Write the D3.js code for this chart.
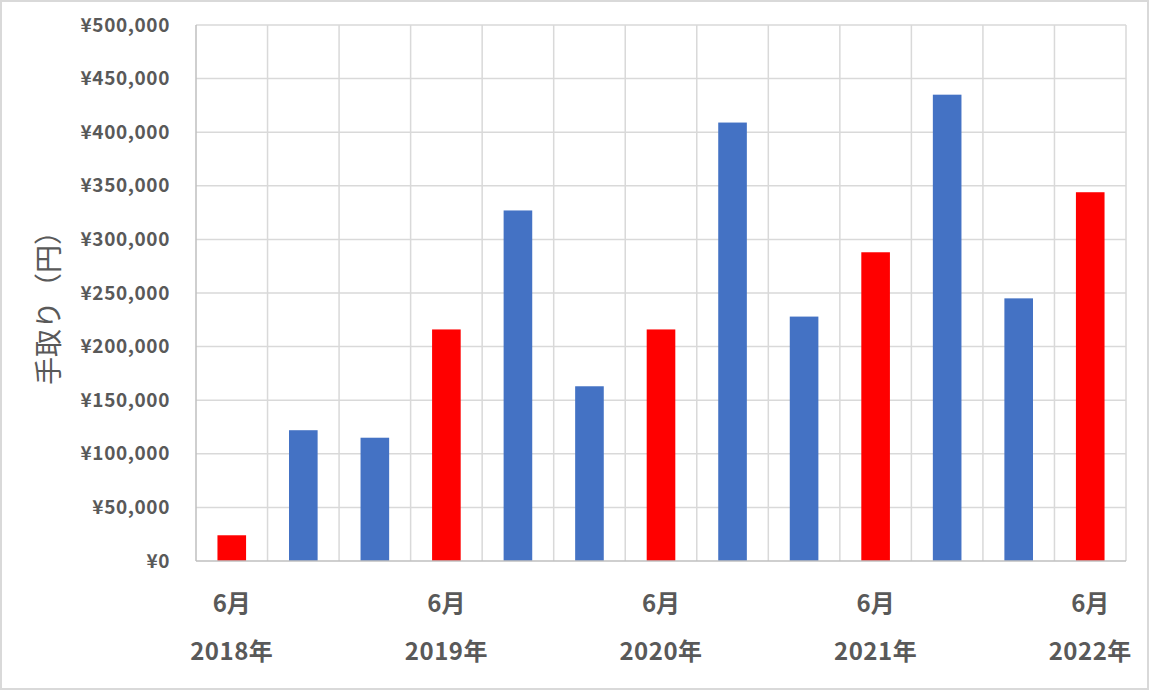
<!DOCTYPE html>
<html>
<head>
<meta charset="utf-8">
<script src="https://cdn.jsdelivr.net/npm/d3@7"></script>
<style>
  body { margin: 0; background: #fff; }
  svg { display: block; }
</style>
</head>
<body>
<div id="chart"></div>
<script>
// data
const categories = ["c1", "c2", "c3", "c4", "c5", "c6", "c7", "c8", "c9", "c10", "c11", "c12", "c13"];
const monthLabels = ["6月", "", "", "6月", "", "", "6月", "", "", "6月", "", "", "6月"];
const yearLabels = ["2018年", "", "", "2019年", "", "", "2020年", "", "", "2021年", "", "", "2022年"];
const values = [24000, 122000, 115000, 216000, 327000, 163000, 216000, 409000, 228000, 288000, 435000, 245000, 344000];
const isJune = [true, false, false, true, false, false, true, false, false, true, false, false, true];
const yTicks = [0, 50000, 100000, 150000, 200000, 250000, 300000, 350000, 400000, 450000, 500000];

const W = 1150, H = 691;
const margin = { top: 25, right: 24, bottom: 130, left: 196 };
const width = 1126 - margin.left;
const height = 561 - margin.top;

const font = "'Noto Sans CJK JP', 'Noto Sans', sans-serif";

const svg = d3.select("#chart").append("svg")
    .attr("width", W)
    .attr("height", H);

// outer border
svg.append("rect")
    .attr("x", 1).attr("y", 1)
    .attr("width", W - 3).attr("height", H - 3)
    .attr("fill", "#fff")
    .attr("stroke", "#d9d9d9")
    .attr("stroke-width", 2);

const g = svg.append("g")
    .attr("transform", `translate(${margin.left},${margin.top})`);

const x = d3.scaleBand()
    .domain(categories)
    .range([0, width])
    .paddingInner(0.6)
    .paddingOuter(0.3);

const y = d3.scaleLinear()
    .domain([0, 500000])
    .range([height, 0]);

// horizontal gridlines
g.selectAll(".hgrid")
    .data(yTicks.slice(1))
    .enter().append("line")
    .attr("x1", 0).attr("x2", width)
    .attr("y1", d => y(d)).attr("y2", d => y(d))
    .attr("stroke", "#d9d9d9")
    .attr("stroke-width", 1.5);

// vertical gridlines at category boundaries
g.selectAll(".vgrid")
    .data(categories)
    .enter().append("line")
    .attr("x1", (d, i) => (i + 1) * width / categories.length)
    .attr("x2", (d, i) => (i + 1) * width / categories.length)
    .attr("y1", 0).attr("y2", height)
    .attr("stroke", "#d9d9d9")
    .attr("stroke-width", 1.5);

// bars
g.selectAll(".bar")
    .data(values)
    .enter().append("rect")
    .attr("class", "bar")
    .attr("x", (d, i) => x(categories[i]))
    .attr("width", x.bandwidth())
    .attr("y", d => y(d))
    .attr("height", d => height - y(d))
    .attr("fill", (d, i) => isJune[i] ? "#ff0000" : "#4472c4");

// axis lines
g.append("line")
    .attr("x1", 0).attr("x2", 0)
    .attr("y1", 0).attr("y2", height)
    .attr("stroke", "#bfbfbf").attr("stroke-width", 1.5);
g.append("line")
    .attr("x1", 0).attr("x2", width)
    .attr("y1", height).attr("y2", height)
    .attr("stroke", "#bfbfbf").attr("stroke-width", 1.5);

// y axis labels
const yAxis = g.append("g")
    .call(d3.axisLeft(y).tickValues(yTicks).tickSize(0).tickPadding(26)
        .tickFormat(d => "¥" + d3.format(",")(d)));
yAxis.select(".domain").remove();
yAxis.selectAll("text")
    .style("font-family", font)
    .style("font-size", "19px")
    .style("font-weight", "bold")
    .style("letter-spacing", "0.6px")
    .attr("fill", "#595959");

// x labels (two rows)
g.selectAll(".mlabel")
    .data(monthLabels)
    .enter().append("text")
    .attr("x", (d, i) => x(categories[i]) + x.bandwidth() / 2)
    .attr("y", 612 - margin.top)
    .attr("text-anchor", "middle")
    .style("font-family", font)
    .style("font-size", "24px")
    .style("font-weight", "bold")
    .attr("fill", "#595959")
    .text(d => d);

g.selectAll(".ylabel")
    .data(yearLabels)
    .enter().append("text")
    .attr("x", (d, i) => x(categories[i]) + x.bandwidth() / 2)
    .attr("y", 660 - margin.top)
    .attr("text-anchor", "middle")
    .style("font-family", font)
    .style("font-size", "24px")
    .style("font-weight", "bold")
    .style("letter-spacing", "0.5px")
    .attr("fill", "#595959")
    .text(d => d);

// y axis title
svg.append("text")
    .attr("transform", "translate(59,301) rotate(-90)")
    .attr("text-anchor", "middle")
    .style("font-family", font)
    .style("font-size", "28px")
    .attr("fill", "#595959")
    .text("手取り（円）");
</script>
</body>
</html>
